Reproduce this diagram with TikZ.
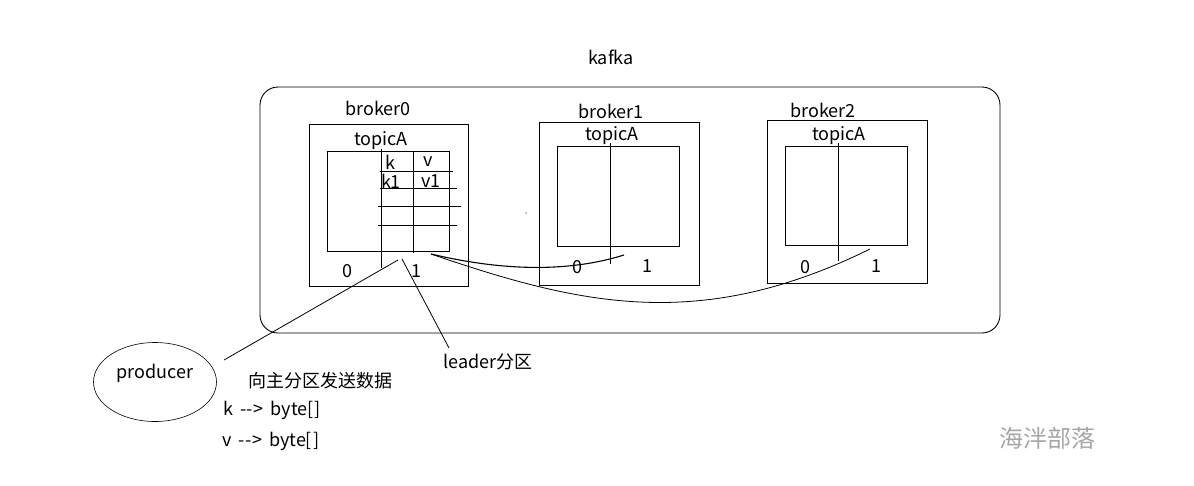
\documentclass[tikz,border=0pt]{standalone}
\usepackage{fontspec}
\setmainfont{Noto Sans CJK SC}
\usetikzlibrary{shapes.geometric}
\newcommand{\arr}{\hspace{7pt}{-}\kern0.5pt{-}\kern0.5pt>\hspace{7pt}}
\begin{document}
\begin{tikzpicture}[x=1pt,y=-1pt,
  txt/.style={inner sep=0pt,font=\fontsize{18}{21}\selectfont},
  box/.style={draw,line width=0.9pt},
  ln/.style={line width=0.8pt}]
\useasboundingbox (0,0) rectangle (1194,485);
% title
\node[txt] (kafka) at (611,57) {kafka};
\draw[box,rounded corners=18pt] (260,87) rectangle (1000,333);
% broker0
\node[txt] (b0) at (378,108) {broker0};
\draw[box] (309,124) rectangle (468,286);
\node[txt] (t0) at (381,141) {topicA};
\draw[box] (327,151) rectangle (449,251);
\draw[ln] (381,149) -- (381,268);
\draw[ln] (413,151) -- (413,253);
\draw[ln] (380,171) -- (453,171);
\draw[ln] (380,188) -- (457,188);
\draw[ln] (378,206) -- (461,206);
\draw[ln] (378,225) -- (457,225);
\node[txt] (k) at (390,162) {k};
\node[txt] (v) at (428,162) {v};
\node[txt] (k1) at (391,181) {k1};
\node[txt] (v1) at (431,181) {v1};
\node[txt] (p00) at (347,271) {0};
\node[txt] (p01) at (416,271) {1};
% broker1
\node[txt] (b1) at (611,111) {broker1};
\draw[box] (539,122) rectangle (699,285);
\node[txt] (t1) at (612,136) {topicA};
\draw[box] (557,146) rectangle (679,246);
\draw[ln] (610,143) -- (610,264);
\node[txt] (p10) at (577,267) {0};
\node[txt] (p11) at (647,266) {1};
% broker2
\node[txt] (b2) at (823,110) {broker2};
\draw[box] (767,120) rectangle (927,283);
\node[txt] (t2) at (839,136) {topicA};
\draw[box] (785,146) rectangle (907,245);
\draw[ln] (838,143) -- (838,261);
\node[txt] (p20) at (805,267) {0};
\node[txt] (p21) at (876,266) {1};
% dot
\fill (526,213) circle (0.7pt);
% replication curves
\coordinate (src) at (431,254);
\coordinate (r1) at (624,255);
\coordinate (r2) at (870,249);
\draw[line width=1.1pt] (src) .. controls (490,268) and (560,275) .. (r1);
\draw[ln] (src) .. controls (580,305) and (700,333) .. (r2);
% producer
\node[draw,ellipse,line width=0.6pt,minimum width=123pt,minimum height=79pt,inner sep=0pt] (prod) at (155,382) {};
\node[txt] (prodt) at (155,373) {producer};
\coordinate (pa) at (398,260);
\coordinate (pb) at (224,360);
\draw[ln] (pa) -- (pb);
\node[txt] (leader) at (488,362) {leader分区};
\coordinate (la) at (402,259);
\draw[ln] (la) -- (449,348);
\node[txt] (send) at (320,381) {向主分区发送数据};
\node[txt,anchor=west] (kb) at (223,410) {k\arr byte[\kern1pt]};
\node[txt,anchor=west] (vb) at (222,441) {v\arr byte[\kern1pt]};
\node[inner sep=0pt,font=\fontsize{24}{28}\selectfont,text=black!35] (wm) at (1047,438) {海泮部落};
\end{tikzpicture}
\end{document}
